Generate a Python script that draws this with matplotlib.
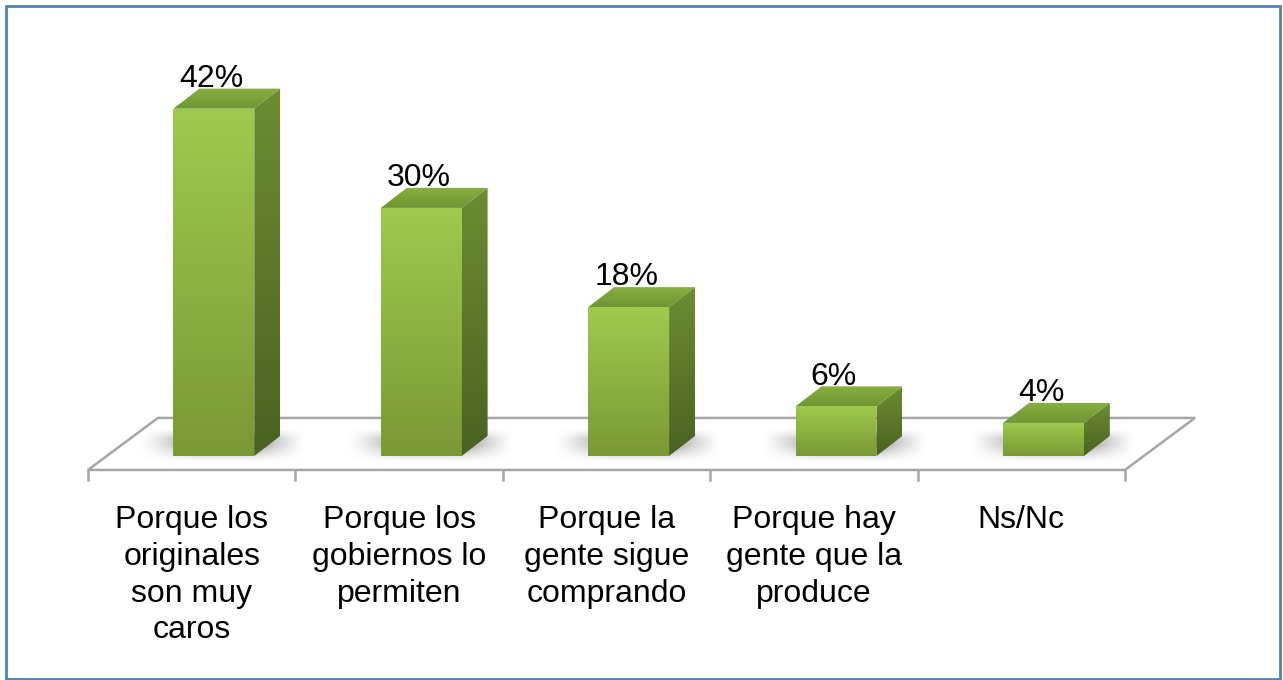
import numpy as np
import matplotlib
matplotlib.use('Agg')
import matplotlib.pyplot as plt
from matplotlib.patches import Polygon, Rectangle
from matplotlib.colors import to_rgb

# Data
categories = ['Porque los\noriginales\nson muy\ncaros',
              'Porque los\ngobiernos lo\npermiten',
              'Porque la\ngente sigue\ncomprando',
              'Porque hay\ngente que la\nproduce',
              'Ns/Nc']
values = [42, 30, 18, 6, 4]
value_labels = ['42%', '30%', '18%', '6%', '4%']

plt.rcParams['font.family'] = ['Liberation Sans', 'DejaVu Sans']

# pseudo 3D geometry (category units / percent units)
bar_off = 0.107
bar_w = 0.39
dep_x, dep_y = 0.125, 2.42
floor_y = -1.69
floor_dx, floor_dy = 0.3375, 6.29
tick_len = 1.2


def grad_poly(ax, verts, c_top, c_bot, z):
    poly = Polygon(verts, closed=True, facecolor='none', edgecolor='none', zorder=z)
    ax.add_patch(poly)
    xs = [p[0] for p in verts]
    ys = [p[1] for p in verts]
    g = np.linspace(0, 1, 128)[:, None, None]
    img = np.array(to_rgb(c_top)) * (1 - g) + np.array(to_rgb(c_bot)) * g
    im = ax.imshow(img, extent=[min(xs), max(xs), min(ys), max(ys)],
                   aspect='auto', zorder=z, interpolation='bilinear')
    im.set_clip_path(poly)


def shadow(ax, xl, z):
    # soft grey shadow on the floor, behind/right of the bar
    x0, x1 = xl - 0.16, xl + bar_w + dep_x + 0.12
    y0, y1 = -0.7, dep_y + 0.9
    nx, ny = 120, 60
    u = np.linspace(0, 1, nx)[None, :]
    w = np.linspace(0, 1, ny)[:, None]
    ax_ = np.clip(u / 0.35, 0, 1) * np.clip((1 - u) / 0.3, 0, 1)
    ay_ = np.clip(w / 0.5, 0, 1) * np.clip((1 - w) / 0.3, 0, 1)
    a = 0.65 * (ax_ ** 1.2) * (ay_ ** 1.2)
    rgba = np.zeros((ny, nx, 4))
    rgba[..., :3] = 0.42
    rgba[..., 3] = a
    ax.imshow(rgba, extent=[x0, x1, y1, y0], aspect='auto', zorder=z,
              interpolation='bilinear')


fig = plt.figure(figsize=(12.83, 6.80), dpi=100)
ax = fig.add_axes([0, 0, 1, 1])

n = len(values)
x0, x1 = -0.5, n - 0.5
floor = Polygon([(x0, floor_y), (x1, floor_y), (x1 + floor_dx, floor_y + floor_dy),
                 (x0 + floor_dx, floor_y + floor_dy)], closed=True,
                facecolor='white', edgecolor='#A6A6A6', lw=1.8, zorder=1)
ax.add_patch(floor)
for k in range(n + 1):
    ax.plot([x0 + k, x0 + k], [floor_y, floor_y - tick_len], color='#A6A6A6', lw=1.8, zorder=1)

for i, v in enumerate(values):
    xl = i + bar_off - bar_w / 2
    xr = xl + bar_w
    shadow(ax, xl, 2)
    grad_poly(ax, [(xl, 0), (xr, 0), (xr, v), (xl, v)], '#9ECA4D', '#799935', 3)
    grad_poly(ax, [(xr, 0), (xr + dep_x, dep_y), (xr + dep_x, v + dep_y), (xr, v)],
              '#6C8D31', '#4A6223', 3)
    grad_poly(ax, [(xl, v), (xr, v), (xr + dep_x, v + dep_y), (xl + dep_x, v + dep_y)],
              '#88B040', '#6F9533', 3)
    ax.text(i + bar_off - 0.01, v + dep_y + 0.2, value_labels[i], ha='center', va='baseline',
            fontsize=23, zorder=4)
    ax.text(i, -5.9, categories[i], ha='center', va='top', fontsize=23,
            linespacing=1.3, zorder=4)

ax.set_xlim(-0.924, 5.262)
ax.set_ylim(-27.09, 55.14)
ax.axis('off')

fig.patches.append(Rectangle((0.0047, 0.0022), 0.9926, 0.9896, transform=fig.transFigure,
                             fill=False, edgecolor='#4F81BD', lw=2))

plt.savefig('out.png', dpi=100)
